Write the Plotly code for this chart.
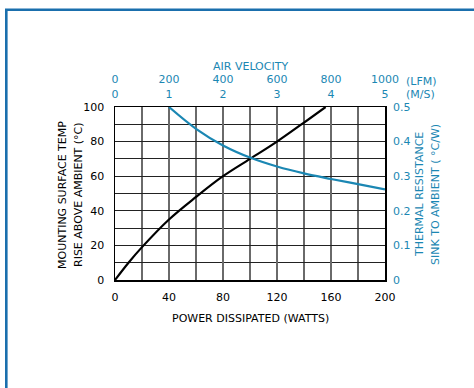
import plotly.graph_objects as go

# Data
power_w = [0, 10, 20, 40, 60, 80, 100, 120, 140, 156]
temp_rise_c = [0, 10, 19, 35, 48, 60, 70, 80, 91, 100]

air_lfm = [200, 300, 400, 500, 600, 700, 800, 900, 1000]
thermal_res = [0.50, 0.437, 0.389, 0.354, 0.328, 0.308, 0.292, 0.277, 0.262]

x_ticks = [0, 40, 80, 120, 160, 200]
y_ticks = [0, 20, 40, 60, 80, 100]
lfm_ticks = [0, 200, 400, 600, 800, 1000]
ms_labels = ["0", "1", "2", "3", "4", "5"]
res_ticks = [0, 0.1, 0.2, 0.3, 0.4, 0.5]
res_labels = ["0", "0.1", "0.2", "0.3", "0.4", "0.5"]

BLUE = "#1b87b3"
FRAME = "#1a6fad"
FONT = "DejaVu Sans"

# plot area in pixels
L, R, T, B = 115, 385, 107, 280


def px(x):
    return (x - L) / (R - L)


def py(y):
    return (B - y) / (B - T)


fig = go.Figure()
fig.add_trace(go.Scatter(x=power_w, y=temp_rise_c, mode="lines",
                         line=dict(color="black", width=2.2, shape="spline"),
                         xaxis="x", yaxis="y", showlegend=False, hoverinfo="skip"))
fig.add_trace(go.Scatter(x=air_lfm, y=thermal_res, mode="lines",
                         line=dict(color=BLUE, width=2.2, shape="spline"),
                         xaxis="x2", yaxis="y2", showlegend=False, hoverinfo="skip"))


def ann(text, x, y, color="black", angle=0, xanchor="center", align="center"):
    return dict(text=text, xref="paper", yref="paper", x=px(x), y=py(y),
                xanchor=xanchor, yanchor="middle", showarrow=False, textangle=angle,
                align=align, font=dict(color=color, size=11, family=FONT))


fig.update_layout(
    width=474, height=388,
    margin=dict(l=L, r=474 - R, t=T, b=388 - B),
    paper_bgcolor="white", plot_bgcolor="white",
    font=dict(family=FONT, size=11, color="black"),
    xaxis=dict(range=[0, 200], tickvals=x_ticks, ticktext=[str(v) for v in x_ticks],
               showgrid=True, gridcolor="#6a6a6a", gridwidth=1.6,
               showline=True, linecolor="black", linewidth=1.5, mirror=True,
               ticks="", zeroline=False, automargin=False, ticklabelstandoff=6,
               minor=dict(dtick=20, showgrid=True, gridcolor="#6a6a6a", gridwidth=1.6)),
    yaxis=dict(range=[0, 100], tickvals=y_ticks, ticktext=[str(v) for v in y_ticks],
               showgrid=True, gridcolor="#222", gridwidth=1,
               minor=dict(dtick=10, showgrid=True, gridcolor="#222", gridwidth=1),
               showline=True, linecolor="black", linewidth=1.5, mirror=True,
               ticks="", zeroline=False, automargin=False, ticklabelstandoff=7),
    xaxis2=dict(range=[0, 1000], overlaying="x", side="top", anchor="y",
                tickvals=lfm_ticks,
                ticktext=[f"{a}<br>{b}" for a, b in zip(lfm_ticks, ms_labels)],
                tickfont=dict(color=BLUE), showgrid=False, zeroline=False, ticks="",
                automargin=False, ticklabelstandoff=6),
    yaxis2=dict(range=[0, 0.5], overlaying="y", side="right", anchor="x",
                tickvals=res_ticks, ticktext=res_labels,
                tickfont=dict(color=BLUE), showgrid=False, zeroline=False, ticks="",
                automargin=False, ticklabelstandoff=7),
    shapes=[dict(type="rect", xref="paper", yref="paper",
                 x0=px(6.3), x1=px(490), y0=py(400), y1=py(9.7),
                 line=dict(color=FRAME, width=2.6), fillcolor="rgba(0,0,0,0)",
                 layer="below")],
    annotations=[
        ann("(LFM)", 404, 81.5, BLUE, xanchor="left"),
        ann("(M/S)", 404, 94.5, BLUE, xanchor="left"),
        ann("AIR VELOCITY", 250, 66, BLUE),
        ann("POWER DISSIPATED (WATTS)", 250, 318),
        ann("MOUNTING SURFACE TEMP", 62, 195, angle=-90),
        ann("RISE ABOVE AMBIENT (°C)", 78, 195, angle=-90),
        ann("THERMAL RESISTANCE", 419, 195, BLUE, angle=-90),
        ann("SINK TO AMBIENT ( °C/W)", 435, 195, BLUE, angle=-90),
    ],
)

fig.write_html("out.html", config={"displayModeBar": False, "staticPlot": True},
               post_script="document.body.style.margin='0';")
